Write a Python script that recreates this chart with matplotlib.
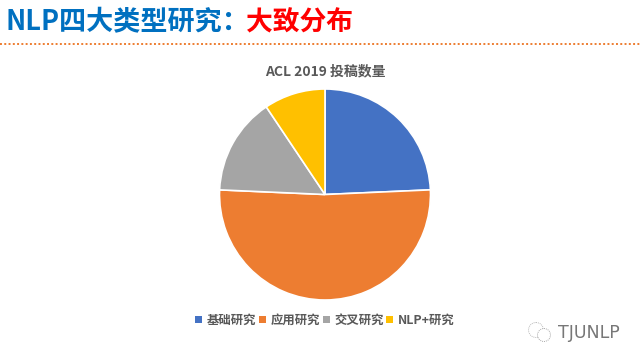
import matplotlib.pyplot as plt
from matplotlib.patches import Circle

plt.rcParams['font.family'] = ['Noto Sans CJK SC', 'DejaVu Sans']

# Data
categories = ['基础研究', '应用研究', '交叉研究', 'NLP+研究']
shares = [24.3, 51.4, 14.9, 9.4]
colors = ['#4472C4', '#ED7D31', '#A5A5A5', '#FFC000']
chart_title = 'ACL 2019 投稿数量'

W, H = 640, 360
fig = plt.figure(figsize=(W / 100, H / 100), dpi=100, facecolor='white')

# full-figure overlay in pixel coords, y going down
bg = fig.add_axes([0, 0, 1, 1])
bg.set_xlim(0, W)
bg.set_ylim(H, 0)
bg.axis('off')

# slide heading
bg.text(6, 22, 'NLP四大类型研究：', fontsize=19.5, fontweight='bold',
        color='#0070C0', va='center', ha='left')
bg.text(246, 22, '大致分布', fontsize=19.3, fontweight='bold',
        color='#FF0000', va='center', ha='left')
bg.plot([0, W], [44, 44], color='#ED7D31', lw=1.4, ls=(0, (1, 1.2)))

# chart title
bg.text(325, 71, chart_title, fontsize=10, fontweight='bold', color='#595959',
        va='center', ha='center')

# pie: centre (325,194.5), radius 105.5 px
size = 211
ax = fig.add_axes([(325 - size / 2) / W, 1 - (194.5 + size / 2) / H, size / W, size / H])
ax.pie(shares, colors=colors, startangle=90, counterclock=False, radius=1,
       wedgeprops={'edgecolor': 'white', 'linewidth': 1.2})
ax.set_xlim(-1, 1)
ax.set_ylim(-1, 1)

# legend by hand so spacing follows the reference
legend_x = [195, 259, 323, 386]
for x, name, c in zip(legend_x, categories, colors):
    bg.add_patch(plt.Rectangle((x, 316), 7, 7, color=c, lw=0))
    bg.text(x + 11.5, 320, name, fontsize=8.9, fontweight='bold', color='#595959',
            va='center', ha='left')

# watermark
bg.add_patch(Circle((536, 330), 7.5, fill=False, ec='#bbbbbb', lw=0.7, ls=(0, (1, 1))))
bg.add_patch(Circle((544, 335), 6.5, facecolor='white', ec='#aaaaaa', lw=0.7, ls=(0, (1, 1))))
bg.text(558, 333, 'TJUNLP', fontsize=12.5, color='#777777', va='center', ha='left',
        family='DejaVu Sans')

plt.savefig('out.png', dpi=100)
plt.close()
